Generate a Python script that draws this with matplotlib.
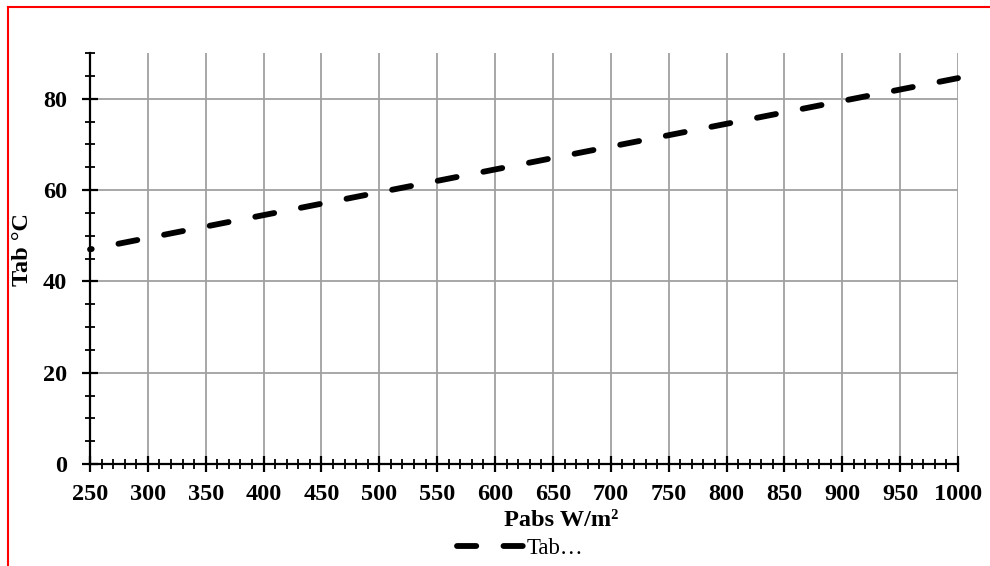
import matplotlib
matplotlib.use("Agg")
import matplotlib.pyplot as plt
from matplotlib.ticker import MultipleLocator
from matplotlib.lines import Line2D

# Absorbed irradiance (W/m²) and absorber temperature (°C)
pabs = [250, 300, 350, 400, 450, 500, 550, 600, 650, 700, 750, 800, 850, 900, 950, 1000]
tab = [47.0, 49.5, 52.0, 54.5, 57.0, 59.5, 62.0, 64.5, 67.0, 69.5, 72.0, 74.5, 77.0, 79.5, 82.0, 84.5]

series_label = "Tab…"
x_label = "Pabs W/m²"
y_label = "Tab °C"

serif = ["Liberation Serif", "DejaVu Serif"]
plt.rcParams["font.family"] = serif

fig = plt.figure(figsize=(9.9, 5.66), dpi=100)
ax = fig.add_axes([90 / 990, 1 - 464 / 566, (958 - 90) / 990, (464 - 53) / 566])

lw = 4.2
dash = (3.3, 4.67)
ax.plot(pabs, tab, color="black", lw=lw, linestyle=(3.0, dash),
        dash_capstyle="round", zorder=3, clip_on=False)

ax.set_xlim(250, 1000)
ax.set_ylim(0, 90)
ax.xaxis.set_major_locator(MultipleLocator(50))
ax.xaxis.set_minor_locator(MultipleLocator(10))
ax.yaxis.set_major_locator(MultipleLocator(20))
ax.yaxis.set_minor_locator(MultipleLocator(5))

ax.grid(True, which="major", color="#a0a0a0", lw=1.3, zorder=0)
ax.set_axisbelow(True)

for s in ("top", "right"):
    ax.spines[s].set_visible(False)
for s in ("left", "bottom"):
    ax.spines[s].set_linewidth(1.6)
    ax.spines[s].set_color("black")

ax.tick_params(which="major", direction="inout", length=11, width=1.6,
               labelsize=17.5)
ax.tick_params(axis="x", which="major", pad=9)
ax.tick_params(axis="y", which="major", pad=11)
ax.tick_params(which="minor", direction="inout", length=7.5, width=1.3)
for lbl in ax.get_xticklabels() + ax.get_yticklabels():
    lbl.set_fontweight("bold")

fig.text(23 / 990, 1 - 250 / 566, y_label, fontsize=17.5, fontweight="bold",
         rotation=90, ha="center", va="center")
fig.text(561 / 990, 1 - 520 / 566, x_label, fontsize=17.5, fontweight="bold",
         ha="center", va="center")

handle = Line2D([], [], color="black", lw=lw, linestyle=(0, dash),
                dash_capstyle="round")
fig.legend([handle], [series_label], loc="center",
           bbox_to_anchor=(520 / 990, 1 - 548 / 566),
           frameon=False, fontsize=16.5, handlelength=3.0, handletextpad=0.05,
           borderpad=0.1)

# Chart border (left and top edges)
fig.add_artist(Line2D([7.5 / 990, 7.5 / 990], [0, 1 - 6.5 / 566],
                      transform=fig.transFigure, color="red", lw=1.5))
fig.add_artist(Line2D([7.5 / 990, 1], [1 - 6.5 / 566, 1 - 6.5 / 566],
                      transform=fig.transFigure, color="red", lw=1.5))

fig.savefig("out.png", dpi=100)
